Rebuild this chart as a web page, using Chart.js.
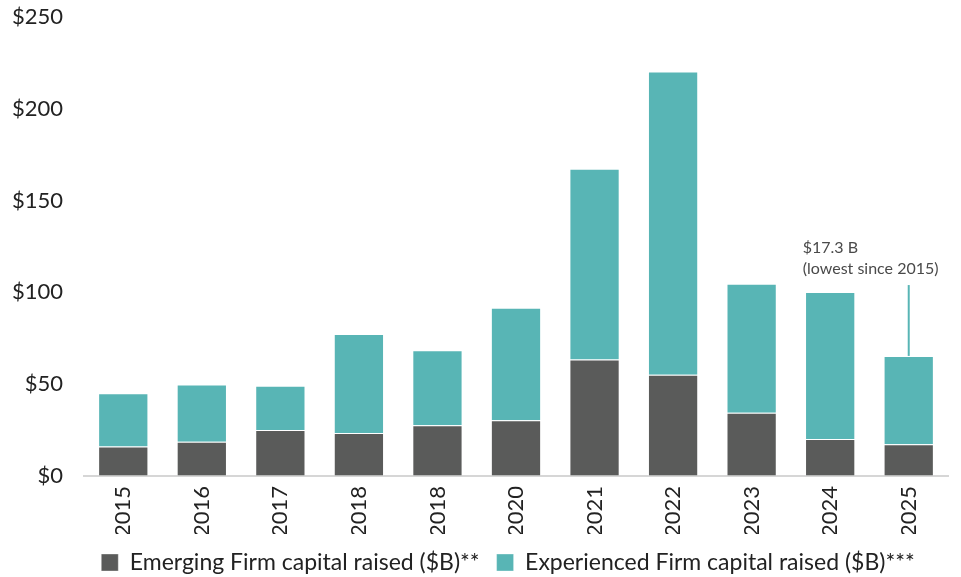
<!DOCTYPE html>
<html>
<head>
<meta charset="utf-8">
<script src="https://cdn.jsdelivr.net/npm/chart.js@4"></script>
<style>
  html, body { margin: 0; padding: 0; background: #fff; }
  #wrap { width: 961px; height: 577px; }
</style>
</head>
<body>
<div id="wrap"><canvas id="grafica"></canvas></div>
<script>
// años (el segundo 2018 aparece así en la fuente)
const anios = ['2015', '2016', '2017', '2018', '2018', '2020', '2021', '2022', '2023', '2024', '2025'];
// capital levantado por firmas emergentes ($B)
const emergentes = [16.0, 18.7, 25.1, 23.4, 27.6, 30.4, 63.4, 55.2, 34.4, 20.2, 17.3];
// capital levantado por firmas con experiencia ($B)
const experimentadas = [29.1, 31.1, 24.1, 53.9, 40.9, 61.2, 104.0, 165.1, 70.3, 80.0, 48.1];
const ticksY = [0, 50, 100, 150, 200, 250];

const colorGris = '#5a5b5a';
const colorTeal = '#58b5b5';
const fuente = 'Lato, "Open Sans", sans-serif';

Chart.defaults.font.family = fuente;
Chart.defaults.color = '#222';

// nota sobre la barra de 2025
const notaPlugin = {
  id: 'nota',
  afterDatasetsDraw(chart) {
    const ctx = chart.ctx;
    const x = chart.scales.x;
    const y = chart.scales.y;
    const i = anios.length - 1;
    const cx = x.getPixelForValue(i);
    const tope = y.getPixelForValue(emergentes[i] + experimentadas[i]);
    ctx.save();
    ctx.strokeStyle = colorTeal;
    ctx.lineWidth = 2;
    ctx.beginPath();
    ctx.moveTo(cx, y.getPixelForValue(104));
    ctx.lineTo(cx, tope);
    ctx.stroke();
    ctx.fillStyle = '#4a4a4a';
    ctx.font = '16px ' + fuente;
    ctx.textBaseline = 'middle';
    ctx.textAlign = 'left';
    ctx.fillText('$' + emergentes[i] + ' B', cx - 106, 248);
    ctx.fillText('(lowest since 2015)', cx - 106, 269);
    ctx.restore();
  }
};

// corre la leyenda un poco a la derecha, centrada bajo las barras
const moverLeyenda = {
  id: 'moverLeyenda',
  afterLayout(chart) {
    chart.legend.left += 34;
    chart.legend.right += 34;
  }
};

new Chart(document.getElementById('grafica'), {
  type: 'bar',
  data: {
    labels: anios,
    datasets: [{
      label: 'Emerging Firm capital raised ($B)**',
      data: emergentes,
      backgroundColor: colorGris,
      borderColor: 'rgba(255,255,255,0.35)',
      borderWidth: 1,
      categoryPercentage: 1,
      barPercentage: 0.64
    }, {
      label: 'Experienced Firm capital raised ($B)***',
      data: experimentadas,
      backgroundColor: colorTeal,
      borderColor: 'rgba(255,255,255,0.35)',
      borderWidth: 1,
      categoryPercentage: 1,
      barPercentage: 0.64
    }]
  },
  options: {
    responsive: true,
    maintainAspectRatio: false,
    animation: false,
    layout: { padding: { top: 17, right: 13, left: 0, bottom: -7 } },
    plugins: {
      legend: {
        position: 'bottom',
        labels: {
          boxWidth: 17,
          boxHeight: 17,
          padding: 17,
          color: '#222',
          font: { size: 23 }
        }
      },
      tooltip: { enabled: false }
    },
    scales: {
      x: {
        stacked: true,
        afterFit(scale) { scale.height = 58; },
        grid: { display: false, drawTicks: false },
        border: { display: true, color: '#d6d6d6', width: 2 },
        ticks: {
          minRotation: 90,
          maxRotation: 90,
          padding: 10,
          color: '#222',
          font: { size: 22 }
        }
      },
      y: {
        stacked: true,
        min: 0,
        max: 250,
        afterFit(scale) { scale.width = 84; },
        afterBuildTicks(scale) { scale.ticks = ticksY.map(v => ({ value: v })); },
        grid: {
          display: true,
          drawOnChartArea: false,
          drawTicks: true,
          tickLength: 21,
          tickColor: 'rgba(0,0,0,0)'
        },
        border: { display: false },
        ticks: {
          padding: 0,
          color: '#222',
          font: { size: 22 },
          callback: v => '$' + v
        }
      }
    }
  },
  plugins: [notaPlugin, moverLeyenda]
});
</script>
</body>
</html>
